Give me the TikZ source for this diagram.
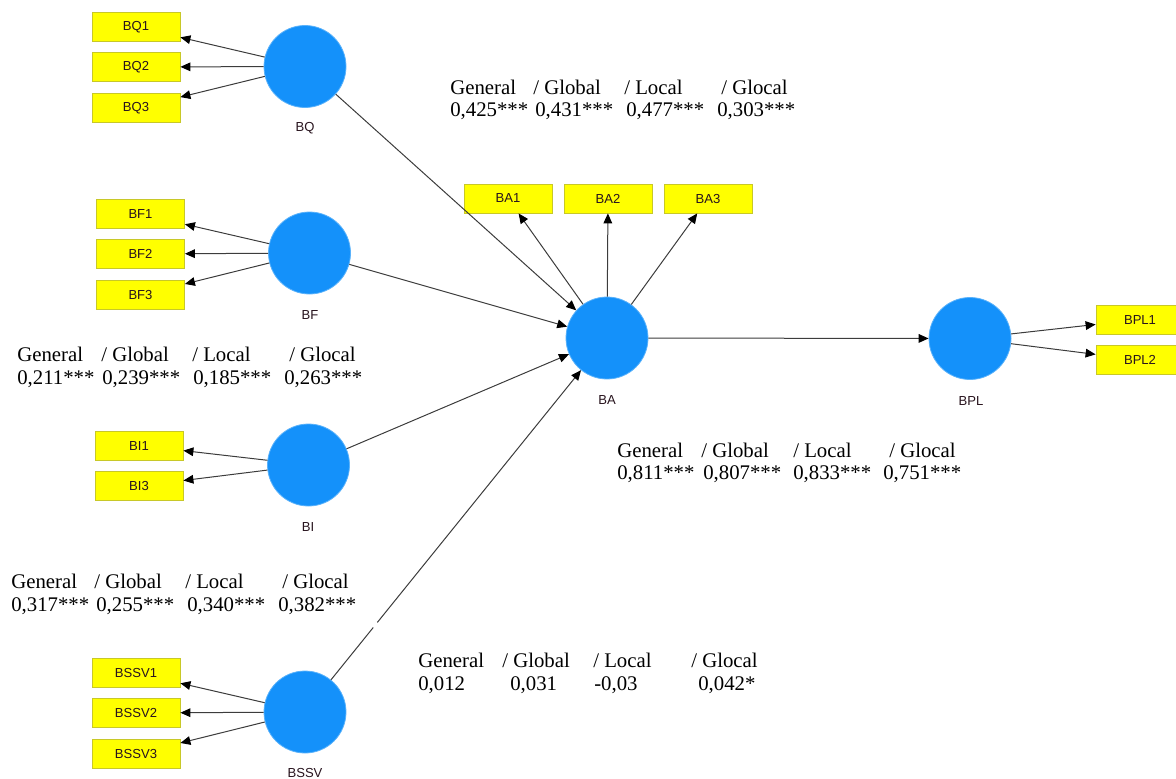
\documentclass[tikz,border=0pt]{standalone}
\usepackage{fontspec}
\setmainfont{Liberation Serif}
\setsansfont{Liberation Sans}
\usetikzlibrary{arrows.meta}
\definecolor{lvblue}{RGB}{20,145,250}
\definecolor{boxyel}{RGB}{255,255,0}
\definecolor{boxedge}{RGB}{200,200,40}
\definecolor{lnk}{RGB}{60,60,60}
\definecolor{smtxt}{RGB}{40,20,30}
\tikzset{
  lv/.style={circle,fill=lvblue,draw=lvblue!70!white,line width=0.6pt,minimum size=61.5pt,inner sep=0pt},
  ind/.style={rectangle,fill=boxyel,draw=boxedge,line width=0.6pt,minimum width=66pt,minimum height=21.75pt,inner sep=0pt,font=\sffamily\fontsize{9.8}{11}\selectfont,text=smtxt},
  lvname/.style={font=\sffamily\fontsize{9.8}{11}\selectfont,text=smtxt,inner sep=0pt},
  coef/.style={anchor=base west,inner sep=0pt,font=\fontsize{15.6}{18}\selectfont},
  link/.style={draw=lnk,line width=0.75pt,-{Triangle[length=7.5pt,width=6.5pt,color=black]}}
}
\begin{document}
\begin{tikzpicture}[x=0.75pt,y=-0.75pt]
\useasboundingbox (0,0) rectangle (1176,778);
% latent variables
\node[lv] (BQ) at (305,66.5) {};
\node[lv] (BF) at (309.5,253) {};
\node[lv] (BI) at (308.5,465) {};
\node[lv] (BSSV) at (305,712) {};
\node[lv] (BA) at (607,338) {};
\node[lv] (BPL) at (970,338.5) {};
\node[lvname] (nBQ) at (305,128) {BQ};
\node[lvname] (nBF) at (310,315) {BF};
\node[lvname] (nBI) at (308,527) {BI};
\node[lvname] (nBSSV) at (305,773) {BSSV};
\node[lvname] (nBA) at (607,400) {BA};
\node[lvname] (nBPL) at (971,401) {BPL};
% indicators
\node[ind] (BQ1) at (136,27) {BQ1};
\node[ind] (BQ2) at (136,67) {BQ2};
\node[ind] (BQ3) at (136,108) {BQ3};
\node[ind] (BF1) at (140.5,214) {BF1};
\node[ind] (BF2) at (140.5,254) {BF2};
\node[ind] (BF3) at (140.5,295) {BF3};
\node[ind] (BI1) at (139,445.5) {BI1};
\node[ind] (BI3) at (139,486) {BI3};
\node[ind] (BSSV1) at (136,673) {BSSV1};
\node[ind] (BSSV2) at (136,713) {BSSV2};
\node[ind] (BSSV3) at (136,754) {BSSV3};
\node[ind] (BA1) at (508,198.5) {BA1};
\node[ind] (BA2) at (608,198.5) {BA2};
\node[ind] (BA3) at (708,198.5) {BA3};
\node[ind] (BPL1) at (1140,319.5) {BPL1};
\node[ind] (BPL2) at (1140,360) {BPL2};
% measurement arrows
\foreach \a/\b in {BQ/BQ1,BQ/BQ2,BQ/BQ3,BF/BF1,BF/BF2,BF/BF3,BI/BI1,BI/BI3,BSSV/BSSV1,BSSV/BSSV2,BSSV/BSSV3,BA/BA1,BA/BA2,BA/BA3,BPL/BPL1,BPL/BPL2}
  \draw[link] (\a) -- (\b);
% structural arrows
\draw[link] (BQ) -- (BA);
\draw[link] (BF) -- (BA);
\draw[link] (BI) -- (BA);
\draw[link] (BSSV) -- (BA);
\draw[link] (BA) -- (BPL);
% small gap in BSSV-BA line
\draw[white,line width=3pt] (373.6,627.6) -- (377,622.4);
% coefficient labels
\foreach \x/\t [count=\i] in {450/General,533/{/ Global},624/{/ Local},721/{/ Glocal}}
  \node[coef] (h1-\i) at (\x,94) {\t};
\foreach \x/\t [count=\i] in {450/{0,425***},535/{0,431***},626/{0,477***},717/{0,303***}}
  \node[coef] (v1-\i) at (\x,116) {\t};
\foreach \x/\t [count=\i] in {17/General,101/{/ Global},192/{/ Local},289/{/ Glocal}}
  \node[coef] (h2-\i) at (\x,361) {\t};
\foreach \x/\t [count=\i] in {17/{0,211***},102/{0,239***},193/{0,185***},284/{0,263***}}
  \node[coef] (v2-\i) at (\x,384) {\t};
\foreach \x/\t [count=\i] in {617/General,701/{/ Global},793/{/ Local},889/{/ Glocal}}
  \node[coef] (h3-\i) at (\x,457) {\t};
\foreach \x/\t [count=\i] in {617/{0,811***},703/{0,807***},793/{0,833***},883/{0,751***}}
  \node[coef] (v3-\i) at (\x,479) {\t};
\foreach \x/\t [count=\i] in {11/General,94/{/ Global},185/{/ Local},282/{/ Glocal}}
  \node[coef] (h4-\i) at (\x,588) {\t};
\foreach \x/\t [count=\i] in {11/{0,317***},96/{0,255***},187/{0,340***},278/{0,382***}}
  \node[coef] (v4-\i) at (\x,611) {\t};
\foreach \x/\t [count=\i] in {418/General,502/{/ Global},593/{/ Local},691/{/ Glocal}}
  \node[coef] (h5-\i) at (\x,667) {\t};
\foreach \x/\t [count=\i] in {418/{0,012},510/{0,031},594/{-0,03},698/{0,042*}}
  \node[coef] (v5-\i) at (\x,690) {\t};
\end{tikzpicture}
\end{document}
